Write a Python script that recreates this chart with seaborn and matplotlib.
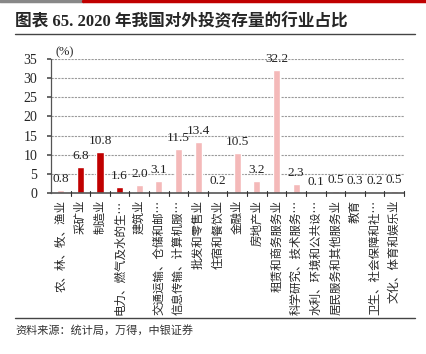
import matplotlib
matplotlib.use("Agg")
import matplotlib.pyplot as plt
import seaborn as sns
import pandas as pd
from matplotlib.lines import Line2D

categories = ["农、林、牧、渔业", "采矿业", "制造业", "电力、燃气及水的生…", "建筑业",
              "交通运输、仓储和邮…", "信息传输、计算机服…", "批发和零售业", "住宿和餐饮业",
              "金融业", "房地产业", "租赁和商务服务业", "科学研究、技术服务…",
              "水利、环境和公共设…", "居民服务和其他服务业", "教育", "卫生、社会保障和社…",
              "文化、体育和娱乐业"]
values = [0.8, 6.8, 10.8, 1.6, 2.0, 3.1, 11.5, 13.4, 0.2, 10.5, 3.2, 32.2, 2.3, 0.1, 0.5, 0.3, 0.2, 0.5]
highlight = [False, True, True, True] + [False] * 14
yticks = [0, 5, 10, 15, 20, 25, 30, 35]

DARK = "#C00000"
LIGHT = "#F4B9B9"

df = pd.DataFrame({"cat": categories, "val": values,
                   "grp": ["h" if h else "n" for h in highlight]})

sns.set_theme(style="white")
plt.rcParams["font.family"] = ["Liberation Serif", "Noto Sans CJK SC", "DejaVu Sans"]

fig = plt.figure(figsize=(4.26, 3.54), dpi=100)
ax = fig.add_axes([51 / 426, 1 - 193 / 354, 353 / 426, 134 / 354])

sns.barplot(data=df, x="cat", y="val", hue="grp", palette={"h": DARK, "n": LIGHT},
            width=0.36, dodge=False, legend=False, ax=ax, saturation=1)

ax.set_xlim(-0.5, len(categories) - 0.5)
ax.set_ylim(0, 35)
ax.set_yticks(yticks)
ax.set_yticklabels([str(t) for t in yticks], fontsize=10, family="Liberation Serif")
for t in yticks[1:]:
    ax.axhline(t, color="#9a9a9a", lw=0.8, ls=(0, (2, 1)), zorder=0)

ax.set_xticks(range(len(categories)))
ax.set_xticklabels(categories, rotation=90, fontsize=8.3,
                   family=["Noto Sans CJK SC", "DejaVu Sans"], va="top", ha="center")
ax.tick_params(axis="x", length=0, pad=5)
ax.tick_params(axis="y", length=3, direction="out", pad=7, color="#555555", left=True)
for b in [i + 0.5 for i in range(len(categories))]:
    ax.plot([b, b], [-0.7, 0.5], color="#333333", lw=0.8, clip_on=False, zorder=5)
ax.set_xlabel("")
ax.set_ylabel("")

for s in ["top", "right"]:
    ax.spines[s].set_visible(False)
ax.spines["left"].set_color("#555555")
ax.spines["bottom"].set_color("#555555")
ax.spines["left"].set_linewidth(0.9)
ax.spines["bottom"].set_linewidth(1.2)

for i, v in enumerate(values):
    ax.text(i, v + 1.3, f"{v:.1f}", ha="center", va="bottom", fontsize=9.5,
            family="Liberation Serif", color="#222222")

ax.text(0.012, 1.005, "(%)", transform=ax.transAxes, fontsize=9, ha="left", va="bottom",
        family="Liberation Serif")

# decorations
fig.add_artist(Line2D([0, 83 / 426], [1 - 1 / 354] * 2, color="#888888", lw=2.5))
fig.add_artist(Line2D([83 / 426, 1], [1 - 1 / 354] * 2, color="#C00000", lw=2.5))
fig.text(15 / 426, 1 - 22 / 354, "图表 65. 2020 年我国对外投资存量的行业占比", fontsize=12,
         fontweight="bold", va="center", ha="left",
         family=["Liberation Serif", "Noto Sans CJK SC"])
fig.add_artist(Line2D([15 / 426, 415 / 426], [1 - 34 / 354] * 2, color="#444444", lw=1))
fig.add_artist(Line2D([15 / 426, 415 / 426], [1 - 318 / 354] * 2, color="#444444", lw=1))
fig.text(15 / 426, 1 - 330 / 354, "资料来源：统计局，万得，中银证券", fontsize=8,
         style="italic", va="center", ha="left", color="#333333",
         family=["Noto Sans CJK SC", "DejaVu Sans"])

fig.savefig("out.png", dpi=100)
